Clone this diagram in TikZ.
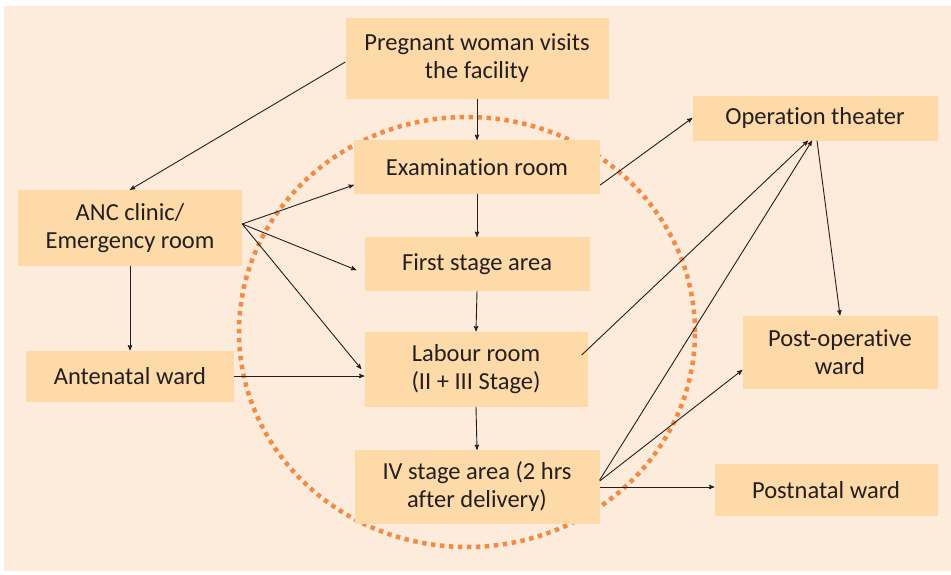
\documentclass[tikz,border=0pt]{standalone}
\usepackage{fontspec}
\setmainfont{Carlito}[Ligatures=CommonOff]
\usetikzlibrary{arrows}
\definecolor{bgpeach}{HTML}{FDEBDB}
\definecolor{boxpeach}{HTML}{FDDAA8}
\definecolor{ringorange}{HTML}{F58A42}
\definecolor{inkgray}{HTML}{231F20}
\begin{document}
\begin{tikzpicture}[x=1pt,y=-1pt,
  room/.style={fill=boxpeach,inner sep=0pt,align=center,text=inkgray,
    font=\fontsize{24.5}{28}\selectfont},
  flow/.style={-stealth',draw=inkgray,line width=0.9pt}]
\useasboundingbox (0,0) rectangle (951,574);
\fill[bgpeach] (4,6) rectangle (951,571);
\draw[ringorange,line width=4.5pt,dash pattern=on 4.5pt off 4.5pt] (467,332) ellipse [x radius=228pt,y radius=215pt];
% rooms
\node[room,minimum width=263pt,minimum height=81pt] (preg) at (477,58) {Pregnant woman visits\\the facility};
\node[room,minimum width=246pt,minimum height=54pt] (exam) at (477,167) {Examination room};
\node[room,minimum width=225pt,minimum height=54pt] (first) at (477,264) {First stage area};
\node[room,minimum width=223pt,minimum height=75pt] (lab) at (476,369) {Labour room\\(II + III Stage)};
\node[room,minimum width=245pt,minimum height=74pt] (iv) at (477,487) {IV stage area (2 hrs\\after delivery)};
\node[room,minimum width=224pt,minimum height=76pt] (anc) at (130,228) {ANC clinic/\\Emergency room};
\node[room,minimum width=208pt,minimum height=51pt] (ante) at (130,376) {Antenatal ward};
\node[room,minimum width=245pt,minimum height=45pt] (ot) at (815,118) {Operation theater};
\node[room,minimum width=195pt,minimum height=73pt] (postop) at (840,352) {Post-operative\\ward};
\node[room,minimum width=223pt,minimum height=52pt] (pn) at (826,490) {Postnatal ward};
% connectors
\draw[flow] ([yshift=-4pt]preg.west) -- (anc.north);
\draw[flow] (preg.south) -- (exam.north);
\draw[flow] (exam.south) -- (first.north);
\draw[flow] (first.south) -- (lab.north);
\draw[flow] (lab.south) -- (iv.north);
\draw[flow] ([yshift=4pt]anc.east) -- ([yshift=-18pt]exam.west);
\draw[flow] ([yshift=4pt]anc.east) -- ([xshift=-8pt,yshift=-6pt]first.west);
\draw[flow] ([yshift=4pt]anc.east) -- ([xshift=-3pt]lab.west);
\draw[flow] (anc.south) -- (ante.north);
\draw[flow] (ante.east) -- (ante.east -| lab.west);
\draw[flow] ([yshift=-18pt]exam.east) -- (ot.west);
\draw[flow] ([xshift=-6pt,yshift=14pt]lab.east) -- ([xshift=-7pt]ot.south);
\draw[flow] ([yshift=7pt]iv.east) -- ([xshift=-3pt]ot.south);
\draw[flow] ([yshift=6pt]iv.east) -- ([yshift=-18pt]postop.west);
\draw[flow] (iv.east) -- (iv.east -| pn.west);
\draw[flow] ([xshift=2pt]ot.south) -- (postop.north);
\end{tikzpicture}
\end{document}
